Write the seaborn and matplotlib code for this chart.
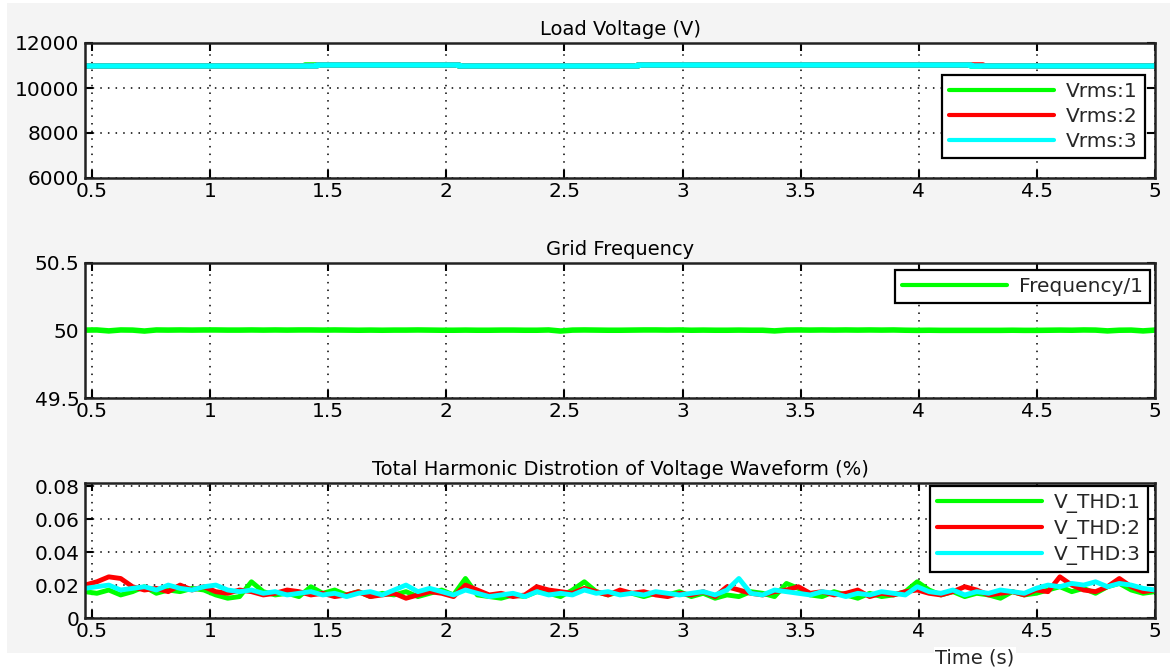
import numpy as np
import pandas as pd
import matplotlib
matplotlib.use("Agg")
import matplotlib.pyplot as plt
import seaborn as sns
from matplotlib.patches import Rectangle

# ---- data ----
t_start, t_end, n_pts = 0.47, 5.0, 91
time = np.linspace(t_start, t_end, n_pts)

vrms_base = 10980
vrms_high = 11040
# Vrms per sample: raised between ~1.45-2.03 s and ~2.83-4.21 s
vrms3 = [vrms_base] * 20 + [vrms_high] * 12 + [vrms_base] * 15 + [vrms_high] * 28 + [vrms_base] * 16
vrms1 = [vrms_base] * 19 + [vrms_high] * 13 + [vrms_base] * 15 + [vrms_high] * 28 + [vrms_base] * 16
vrms2 = [vrms_base] * 20 + [vrms_high] * 12 + [vrms_base] * 15 + [vrms_high] * 29 + [vrms_base] * 15

freq = [50.003, 50.004, 49.997, 50.004, 50.003, 49.996, 50.004, 50.003, 50.004, 50.003,
        50.004, 50.004, 50.003, 50.003, 50.004, 50.003, 50.004, 50.003, 50.004, 50.004,
        50.003, 50.004, 50.003, 50.002, 50.003, 50.002, 50.003, 50.003, 50.004, 50.003,
        50.002, 50.002, 50.003, 50.002, 50.002, 50.003, 50.003, 50.002, 50.002, 50.004,
        49.996, 50.003, 50.004, 50.003, 50.002, 50.002, 50.003, 50.004, 50.004, 50.003,
        50.004, 50.002, 50.003, 50.002, 50.002, 50.003, 50.002, 50.002, 49.997, 50.003,
        50.004, 50.003, 50.004, 50.003, 50.004, 50.003, 50.004, 50.003, 50.004, 50.002,
        50.001, 50.002, 50.001, 50.001, 50.001, 50.001, 50.001, 50.001, 50.002, 50.001,
        50.001, 50.002, 50.003, 50.002, 50.004, 50.003, 49.997, 50.002, 50.003, 49.997,
        50.003]

thd1 = [0.016, 0.015, 0.017, 0.014, 0.016, 0.019, 0.015, 0.017, 0.016, 0.018,
        0.017, 0.014, 0.012, 0.013, 0.022, 0.016, 0.014, 0.015, 0.013, 0.019,
        0.015, 0.017, 0.014, 0.016, 0.013, 0.015, 0.014, 0.016, 0.013, 0.015,
        0.017, 0.014, 0.024, 0.014, 0.013, 0.012, 0.014, 0.013, 0.016, 0.015,
        0.013, 0.017, 0.022, 0.016, 0.014, 0.016, 0.015, 0.013, 0.015, 0.014,
        0.016, 0.013, 0.015, 0.012, 0.014, 0.013, 0.016, 0.015, 0.013, 0.021,
        0.018, 0.014, 0.013, 0.016, 0.014, 0.012, 0.015, 0.013, 0.014, 0.016,
        0.022, 0.017, 0.014, 0.016, 0.013, 0.015, 0.014, 0.012, 0.016, 0.014,
        0.015, 0.017, 0.019, 0.016, 0.018, 0.015, 0.019, 0.021, 0.017, 0.015,
        0.016]
thd2 = [0.020, 0.022, 0.025, 0.024, 0.019, 0.017, 0.018, 0.016, 0.020, 0.017,
        0.019, 0.016, 0.015, 0.017, 0.016, 0.014, 0.015, 0.017, 0.016, 0.014,
        0.015, 0.013, 0.014, 0.016, 0.013, 0.014, 0.015, 0.012, 0.014, 0.016,
        0.015, 0.013, 0.020, 0.017, 0.014, 0.015, 0.013, 0.014, 0.019, 0.017,
        0.016, 0.015, 0.018, 0.016, 0.014, 0.017, 0.015, 0.016, 0.014, 0.013,
        0.015, 0.014, 0.016, 0.013, 0.019, 0.017, 0.015, 0.014, 0.016, 0.017,
        0.019, 0.015, 0.016, 0.014, 0.015, 0.017, 0.013, 0.015, 0.014, 0.016,
        0.017, 0.015, 0.014, 0.016, 0.019, 0.017, 0.014, 0.015, 0.016, 0.014,
        0.017, 0.016, 0.025, 0.020, 0.017, 0.016, 0.019, 0.024, 0.019, 0.016,
        0.017]
thd3 = [0.018, 0.019, 0.020, 0.017, 0.018, 0.019, 0.017, 0.020, 0.018, 0.017,
        0.019, 0.020, 0.017, 0.016, 0.017, 0.015, 0.016, 0.014, 0.015, 0.016,
        0.014, 0.015, 0.013, 0.015, 0.016, 0.014, 0.017, 0.020, 0.016, 0.018,
        0.016, 0.014, 0.017, 0.015, 0.013, 0.014, 0.015, 0.013, 0.016, 0.014,
        0.015, 0.014, 0.017, 0.015, 0.016, 0.014, 0.015, 0.014, 0.016, 0.015,
        0.014, 0.015, 0.016, 0.014, 0.017, 0.024, 0.015, 0.014, 0.017, 0.016,
        0.015, 0.014, 0.016, 0.015, 0.013, 0.015, 0.014, 0.016, 0.015, 0.014,
        0.019, 0.016, 0.015, 0.017, 0.014, 0.016, 0.015, 0.017, 0.016, 0.015,
        0.018, 0.020, 0.019, 0.021, 0.020, 0.022, 0.019, 0.021, 0.020, 0.018,
        0.017]

x_ticks = [0.5, 1, 1.5, 2, 2.5, 3, 3.5, 4, 4.5, 5]
x_labels = ["0.5", "1", "1.5", "2", "2.5", "3", "3.5", "4", "4.5", "5"]

line_colors = ["#00ff00", "#ff0000", "#00ffff"]

# ---- style ----
sns.set_theme(style="white")
plt.rcParams["font.family"] = ["DejaVu Sans"]
plt.rcParams["font.size"] = 14.5

fig = plt.figure(figsize=(11.7, 6.69), dpi=100, facecolor="white")
# grey window background of the scope
fig.patches.append(Rectangle((7 / 1170, 16 / 669), 1 - 7 / 1170, 1 - 19 / 669,
                             transform=fig.transFigure, facecolor="#f4f4f4",
                             edgecolor="none", zorder=-10))

left, width, height = 85 / 1170, 1070 / 1170, 135 / 669
ax1 = fig.add_axes([left, 1 - 178 / 669, width, height])
ax2 = fig.add_axes([left, 1 - 398 / 669, width, height])
ax3 = fig.add_axes([left, 1 - 618 / 669, width, height])


def scope_axes(ax, title, ylim, yticks, ylabels):
    ax.set_facecolor("white")
    ax.set_xlim(t_start, t_end)
    ax.set_ylim(*ylim)
    ax.set_xticks(x_ticks)
    ax.set_xticklabels(x_labels, fontsize=14.5)
    ax.set_yticks(yticks)
    ax.set_yticklabels(ylabels, fontsize=14.5)
    ax.set_title(title, fontsize=14, pad=6, color="black")
    ax.set_xlabel("")
    ax.set_ylabel("")
    ax.grid(True, color="black", linestyle=(0, (1, 4)), linewidth=1.1)
    ax.tick_params(direction="in", length=6, width=1.5, color="black",
                   top=True, right=True, bottom=True, left=True,
                   labelcolor="black")
    ax.tick_params(axis="y", pad=4)
    ax.tick_params(axis="x", pad=3)
    for s in ax.spines.values():
        s.set_color("#222222")
        s.set_linewidth(1.8)


def scope_legend(ax, bbox):
    leg = ax.legend(loc="upper right", bbox_to_anchor=bbox, fontsize=14.5,
                    handlelength=5.2, handletextpad=0.6, borderpad=0.35,
                    borderaxespad=0, labelspacing=0.3, frameon=True,
                    fancybox=False, framealpha=1, edgecolor="black")
    leg.get_frame().set_linewidth(1.6)
    for ln in leg.get_lines():
        ln.set_linewidth(3)


# Load voltage
vdf = pd.DataFrame({"t": np.concatenate([time] * 3),
                    "v": np.concatenate([vrms1, vrms2, vrms3]),
                    "s": ["Vrms:1"] * n_pts + ["Vrms:2"] * n_pts + ["Vrms:3"] * n_pts})
sns.lineplot(data=vdf, x="t", y="v", hue="s", palette=line_colors, linewidth=4,
             drawstyle="steps-mid", ax=ax1, estimator=None)
scope_axes(ax1, "Load Voltage (V)", (6000, 12000), [6000, 8000, 10000, 12000],
           ["6000", "8000", "10000", "12000"])
scope_legend(ax1, (0.9907, 0.763))

# Grid frequency
fdf = pd.DataFrame({"t": time, "f": freq, "s": ["Frequency/1"] * n_pts})
sns.lineplot(data=fdf, x="t", y="f", hue="s", palette=line_colors[:1], linewidth=4,
             ax=ax2, estimator=None)
scope_axes(ax2, "Grid Frequency", (49.5, 50.5), [49.5, 50, 50.5], ["49.5", "50", "50.5"])
scope_legend(ax2, (0.9953, 0.948))

# THD
tdf = pd.DataFrame({"t": np.concatenate([time] * 3),
                    "thd": np.concatenate([thd1, thd2, thd3]),
                    "s": ["V_THD:1"] * n_pts + ["V_THD:2"] * n_pts + ["V_THD:3"] * n_pts})
sns.lineplot(data=tdf, x="t", y="thd", hue="s", palette=line_colors, linewidth=3.5,
             ax=ax3, estimator=None)
scope_axes(ax3, "Total Harmonic Distrotion of Voltage Waveform (%)", (0, 0.082),
           [0, 0.02, 0.04, 0.06, 0.08], ["0", "0.02", "0.04", "0.06", "0.08"])
scope_legend(ax3, (0.9935, 0.978))

fig.text(975 / 1170, 1 - 658 / 669, "Time (s)", fontsize=14, ha="center", va="center",
         bbox=dict(facecolor="white", edgecolor="none", pad=1))

fig.savefig("out.png", dpi=100, facecolor=fig.get_facecolor())
